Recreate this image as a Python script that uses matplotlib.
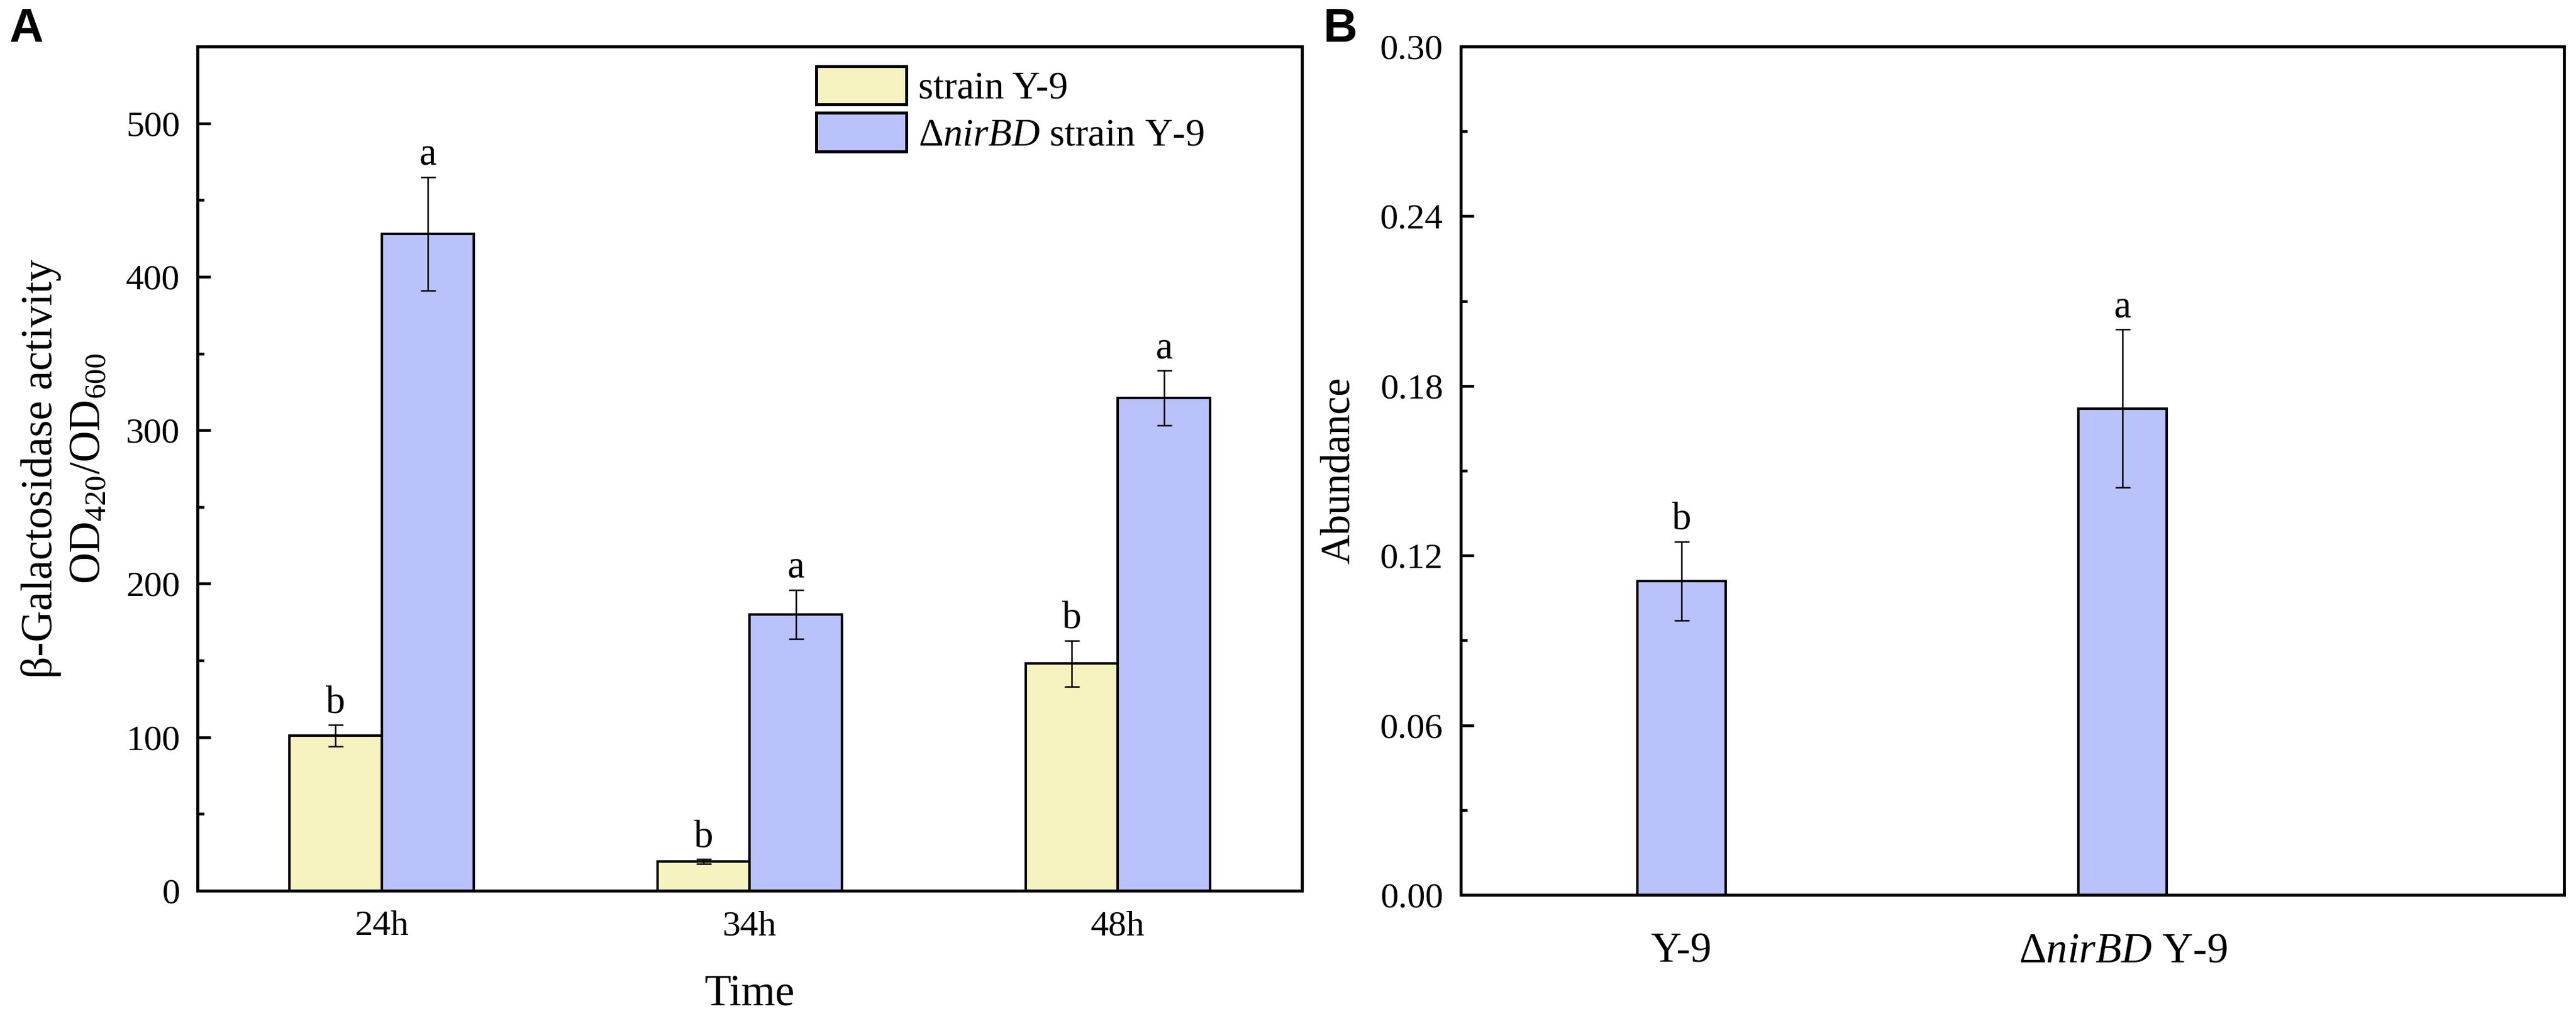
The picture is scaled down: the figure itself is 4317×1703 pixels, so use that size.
import matplotlib
matplotlib.use("Agg")
from matplotlib import pyplot as plt
from matplotlib.patches import Patch
from matplotlib.ticker import MultipleLocator, FormatStrFormatter
import numpy as np

plt.rcParams['font.family'] = ['Liberation Serif', 'DejaVu Serif']
plt.rcParams['mathtext.fontset'] = 'custom'
plt.rcParams['mathtext.rm'] = 'Liberation Serif'
plt.rcParams['mathtext.it'] = 'Liberation Serif:italic'
plt.rcParams['mathtext.bf'] = 'Liberation Serif:bold'

# panel A data
times = ['24h', '34h', '48h']
wt_vals = [101, 19, 148]
wt_err = [7, 1.5, 15]
wt_letters = ['b', 'b', 'b']
mut_vals = [428, 180, 321]
mut_err = [37, 16, 18]
mut_letters = ['a', 'a', 'a']

# panel B data
strains = ['Y-9', r'$\Delta\mathit{nirBD}$ Y-9']
abund_vals = [0.111, 0.172]
abund_err = [0.014, 0.028]
abund_letters = ['b', 'a']

yellow = '#F6F3C1'
blue = '#B9C2FA'

W, H = 4317, 1703
fig = plt.figure(figsize=(W / 300, H / 300), dpi=300)
axA = fig.add_axes([331 / W, 1 - 1493 / H, (2182 - 331) / W, (1493 - 78) / H])
axB = fig.add_axes([2448 / W, 1 - 1500 / H, (4297 - 2448) / W, (1500 - 78) / H])

err_kw = dict(elinewidth=0.6, capsize=3, capthick=0.6, ecolor='black')
tick_fs = 14.5
label_fs = 17.5
letter_fs = 15.5

def style_axes(ax):
    for s in ax.spines.values():
        s.set_linewidth(1.2)
    ax.tick_params(axis='y', which='major', direction='in', length=5.3, width=1.1,
                   labelsize=tick_fs, pad=7)
    ax.tick_params(axis='y', which='minor', direction='in', length=2.7, width=1.1)
    ax.tick_params(axis='x', which='both', length=0)

# ---- panel A ----
x = np.arange(len(times))
bw = 0.25
axA.bar(x - bw / 2, wt_vals, bw, yerr=wt_err, color=yellow, edgecolor='black',
        linewidth=1.0, error_kw=err_kw, zorder=2)
axA.bar(x + bw / 2, mut_vals, bw, yerr=mut_err, color=blue, edgecolor='black',
        linewidth=1.0, error_kw=err_kw, zorder=2)
for i in range(len(times)):
    axA.annotate(wt_letters[i], (x[i] - bw / 2, wt_vals[i] + wt_err[i]),
                 xytext=(0, 5), textcoords='offset points', ha='center',
                 va='baseline', fontsize=letter_fs)
    axA.annotate(mut_letters[i], (x[i] + bw / 2, mut_vals[i] + mut_err[i]),
                 xytext=(0, 5), textcoords='offset points', ha='center',
                 va='baseline', fontsize=letter_fs)

axA.set_xlim(-0.5, 2.5)
axA.set_ylim(0, 550)
axA.set_xticks(x)
axA.set_xticklabels(times)
axA.yaxis.set_major_locator(MultipleLocator(100))
axA.yaxis.set_minor_locator(MultipleLocator(50))
style_axes(axA)
axA.tick_params(axis='x', labelsize=tick_fs, pad=8)
axA.set_xlabel('Time', fontsize=label_fs)
axA.xaxis.set_label_coords(0.5, -0.100)
axA.set_ylabel('β-Galactosidase activity\nOD$_{420}$/OD$_{600}$', fontsize=label_fs,
               linespacing=1.25)
axA.yaxis.set_label_coords(-0.080, 0.5)

handles = [Patch(facecolor=yellow, edgecolor='black', linewidth=1.2),
           Patch(facecolor=blue, edgecolor='black', linewidth=1.2)]
axA.legend(handles, ['strain Y-9', r'$\Delta\mathit{nirBD}$ strain Y-9'],
           loc='upper left', bbox_to_anchor=(0.56, 0.977), frameon=False,
           fontsize=15.5, handlelength=2.35, handleheight=1.15,
           labelspacing=0.17, handletextpad=0.3, borderpad=0, borderaxespad=0)

# ---- panel B ----
xb = np.arange(len(strains))
bwb = 0.2
axB.bar(xb, abund_vals, bwb, yerr=abund_err, color=blue, edgecolor='black',
        linewidth=1.0, error_kw=err_kw, zorder=2)
for i in range(len(strains)):
    axB.annotate(abund_letters[i], (xb[i], abund_vals[i] + abund_err[i]),
                 xytext=(0, 5), textcoords='offset points', ha='center',
                 va='baseline', fontsize=letter_fs)
axB.set_xlim(-0.5, 2.0)
axB.set_ylim(0, 0.30)
axB.set_xticks(xb)
axB.set_xticklabels(strains)
axB.yaxis.set_major_locator(MultipleLocator(0.06))
axB.yaxis.set_minor_locator(MultipleLocator(0.03))
axB.yaxis.set_major_formatter(FormatStrFormatter('%.2f'))
style_axes(axB)
axB.tick_params(axis='x', labelsize=17, pad=15)
axB.set_ylabel('Abundance', fontsize=16.5)
axB.yaxis.set_label_coords(-0.093, 0.5)

# panel letters
fig.text(15 / W, 1 - 12 / H, 'A', ha='left', va='top', fontsize=19,
         fontweight='bold', family='Liberation Sans')
fig.text(2218 / W, 1 - 12 / H, 'B', ha='left', va='top', fontsize=19,
         fontweight='bold', family='Liberation Sans')

fig.savefig('out.png', dpi=300)
